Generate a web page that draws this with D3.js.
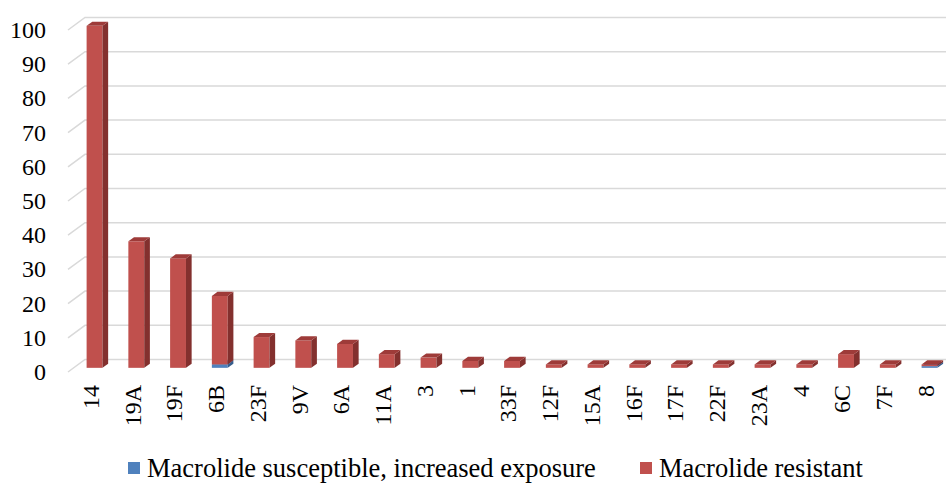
<!DOCTYPE html>
<html>
  <head>
    <meta charset="utf-8"/>
    <style>
    body {
      margin: 0;
      background: #fff;
    }
    text {
      font-family: "Liberation Serif", "Times New Roman", serif;
      fill: #000;
    }
    </style>
  </head>
  <body>
    <script src="https://d3js.org/d3.v7.min.js"></script>
    <script>
    var categories = ["14", "19A", "19F", "6B", "23F", "9V", "6A", "11A", "3", "1", "33F",
                      "12F", "15A", "16F", "17F", "22F", "23A", "4", "6C", "7F", "8"];
    var susceptible = [0, 0, 0, 1, 0, 0, 0, 0, 0, 0, 0, 0, 0, 0, 0, 0, 0, 0, 0, 0, 0.5];
    var resistant = [100, 37, 32, 20, 9, 8, 7, 4, 3, 2, 2, 1, 1, 1, 1, 1, 1, 1, 4, 1, 0.5];
    var yTicks = [0, 10, 20, 30, 40, 50, 60, 70, 80, 90, 100];
    var seriesNames = ["Macrolide susceptible, increased exposure", "Macrolide resistant"];

    var width = 946, height = 483;

    // front plane of the 3d box, depth vector goes back/up
    var depth = [17, -12.5];
    var barDepth = [depth[0] / 3, depth[1] / 3];

    var x = d3.scaleBand()
        .domain(categories)
        .range([68, 68 + categories.length * 41.75])
        .paddingInner(0.62)
        .paddingOuter(0.31);

    var y = d3.scaleLinear()
        .domain([0, 100])
        .range([372, 30]);

    var colors = [
      {front: "#4f81bd", top: "#3e6aa0", side: "#365d8c"},
      {front: "#c0504d", top: "#9e3b39", side: "#83302e"}
    ];

    var svg = d3.select("body").append("svg")
        .attr("width", width)
        .attr("height", height);

    // gridlines: side wall diagonal + back wall horizontal
    var grid = svg.append("g");
    yTicks.forEach(function(t){
      var y0 = y(t);
      grid.append("path")
          .attr("d", "M68," + y0 + "L" + (68 + depth[0]) + "," + (y0 + depth[1]) +
                "L" + width + "," + (y0 + depth[1]))
          .attr("fill", "none")
          .attr("stroke", "#d9d9d9")
          .attr("stroke-width", 1.5);
    });

    // bars
    var bars = svg.append("g");
    categories.forEach(function(c, i){
      var vals = [susceptible[i], resistant[i]];
      var base = 0;
      var x0 = x(c) + barDepth[0];
      var w = x.bandwidth();
      vals.forEach(function(v, s){
        if (v <= 0) return;
        var yb = y(base) + barDepth[1];
        var yt = y(base + v) + barDepth[1];
        var dx = barDepth[0], dy = barDepth[1];
        bars.append("rect")
            .attr("x", x0).attr("y", yt)
            .attr("width", w).attr("height", yb - yt)
            .attr("fill", colors[s].front);
        bars.append("path")
            .attr("d", "M" + (x0 + w) + "," + yt + "L" + (x0 + w + dx) + "," + (yt + dy) +
                  "L" + (x0 + w + dx) + "," + (yb + dy) + "L" + (x0 + w) + "," + yb + "Z")
            .attr("fill", colors[s].side);
        bars.append("path")
            .attr("d", "M" + x0 + "," + yt + "L" + (x0 + dx) + "," + (yt + dy) +
                  "L" + (x0 + w + dx) + "," + (yt + dy) + "L" + (x0 + w) + "," + yt + "Z")
            .attr("fill", colors[s].top);
        base += v;
      });
    });

    // y axis labels
    svg.append("g").selectAll("text")
        .data(yTicks)
      .enter().append("text")
        .attr("x", 46)
        .attr("y", function(d){ return y(d); })
        .attr("text-anchor", "end")
        .attr("dy", "0.33em")
        .attr("font-size", 24)
        .text(function(d){ return d; });

    // x axis labels, rotated
    svg.append("g").selectAll("text")
        .data(categories)
      .enter().append("text")
        .attr("transform", function(d){
          return "translate(" + (x(d) + x.bandwidth() / 2 + 2) + ",385) rotate(-90)";
        })
        .attr("text-anchor", "end")
        .attr("dy", "0.33em")
        .attr("font-size", 24)
        .text(function(d){ return d; });

    // legend
    var legendX = [128, 640];
    var legend = svg.append("g");
    seriesNames.forEach(function(n, i){
      legend.append("rect")
          .attr("x", legendX[i]).attr("y", 462)
          .attr("width", 12).attr("height", 12)
          .attr("fill", colors[i].front);
      legend.append("text")
          .attr("x", legendX[i] + 19).attr("y", 477)
          .attr("font-size", 26.5)
          .text(n);
    });
    </script>
  </body>
</html>
